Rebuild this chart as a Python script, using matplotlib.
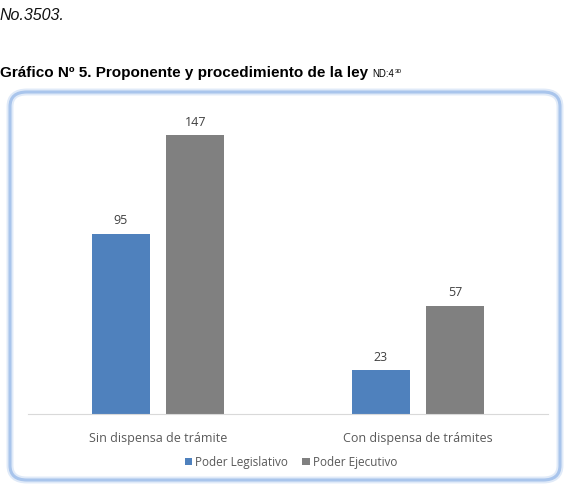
import matplotlib.pyplot as plt
import numpy as np
from matplotlib.patches import FancyBboxPatch

# data
categories = ["Sin dispensa de trámite", "Con dispensa de trámites"]
legislativo = [95, 23]
ejecutivo = [147, 57]
series_names = ["Poder Legislativo", "Poder Ejecutivo"]
colors = ["#4f81bd", "#808080"]

fig = plt.figure(figsize=(5.66, 4.85), dpi=100)

# page text above the chart
fig.text(0.0, 1 - 15 / 485, "No.3503.", fontsize=11.5, style="italic",
         family="Liberation Sans", va="center", ha="left", color="#111111")
title = fig.text(0.0, 1 - 73 / 485, "Gráfico Nº 5. Proponente y procedimiento de la ley",
                 fontsize=11, weight="bold", family="Liberation Sans", va="center", ha="left")
nd = fig.text(0, 0, "ND:4", fontsize=7, family="Liberation Sans", va="baseline", ha="left")
fig.canvas.draw()
tb = title.get_window_extent()
nd.set_position(((tb.x1 + 4) / 566, (tb.y0 + 3) / 485))
fig.canvas.draw()
nb = nd.get_window_extent()
fig.text((nb.x1 + 0.5) / 566, (nb.y0 + 6) / 485, "30", fontsize=4.5,
         family="Liberation Sans", va="baseline", ha="left")

# rounded chart frame with a soft blue glow
for lw, col, a in [(5, "#d3e2f6", 0.7), (2.2, "#a9c5ec", 1.0)]:
    box = FancyBboxPatch((10 / 566, 4 / 485), 550 / 566, 388 / 485,
                         boxstyle="round,pad=0,rounding_size=0.03",
                         transform=fig.transFigure, facecolor="none",
                         edgecolor=col, linewidth=lw, alpha=a)
    fig.add_artist(box)

ax = fig.add_axes([28 / 566, 1 - 415 / 485, 520 / 566, 303.5 / 485])
x = np.arange(len(categories))
w = 0.223
off = 0.144
b1 = ax.bar(x - off, legislativo, w, color=colors[0], label=series_names[0])
b2 = ax.bar(x + off, ejecutivo, w, color=colors[1], label=series_names[1])

for bars in (b1, b2):
    for r in bars:
        ax.annotate(f"{int(r.get_height())}", (r.get_x() + r.get_width() / 2, r.get_height()),
                    xytext=(0, 10), textcoords="offset points", ha="center", va="center",
                    fontsize=9, color="#404040", family="Open Sans")

ax.set_xlim(-0.5, 1.5)
ax.set_ylim(0, 160)
ax.set_yticks([])
ax.set_xticks(x)
ax.set_xticklabels(categories, fontsize=9, color="#595959", family="Open Sans")
ax.tick_params(axis="x", length=0, pad=12)
for s in ["top", "right", "left"]:
    ax.spines[s].set_visible(False)
ax.spines["bottom"].set_color("#d9d9d9")
ax.patch.set_alpha(0)

leg = ax.legend(loc="center", bbox_to_anchor=(0.506, -0.158), ncol=2, frameon=False,
                handlelength=0.6, handleheight=0.6, handletextpad=0.3, columnspacing=1.2,
                prop={"family": "Open Sans", "size": 8.5})
for t in leg.get_texts():
    t.set_color("#595959")

fig.savefig("out.png", dpi=100)
